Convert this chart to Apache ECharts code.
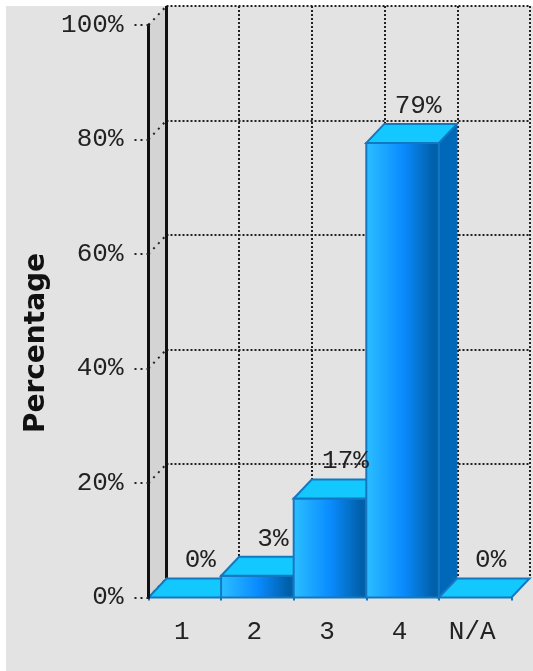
<!DOCTYPE html>
<html><head><meta charset="utf-8">
<script src="https://cdn.jsdelivr.net/npm/echarts@6/dist/echarts.min.js"></script>
<style>html,body{margin:0;padding:0;background:#fff}#c{width:533px;height:671px}</style>
</head><body><div id="c"></div>
<script>
const categories = ['1','2','3','4','N/A'];
const barHeights = [0,3.8,17.3,79.4,0];
const valueLabels = ['0%','3%','17%','79%','0%'];
const axisTicks = [0,20,40,60,80,100];
const DX = 18, DY = 19;
const mono = '"Liberation Mono","DejaVu Sans Mono",monospace';
const chart = echarts.init(document.getElementById('c'), null, {renderer:'canvas'});
function renderBar(params, api){
  const i = api.value(0), v = api.value(1);
  const p0 = api.coord([i,0]), p1 = api.coord([i,v]);
  const w = api.size([1,0])[0];
  const l = p0[0]-w/2, r = p0[0]+w/2, b = p0[1], t = p1[1];
  const stroke = '#1478c0';
  const kids = [];
  if (b-t > 0.5){
    kids.push({type:'polygon',shape:{points:[[r,t],[r+DX,t-DY],[r+DX,b-DY],[r,b]]},style:{fill:'#0068b8',stroke:'#0068b8',lineWidth:1}});
    kids.push({type:'rect',shape:{x:l,y:t,width:w,height:b-t},style:{
      fill:new echarts.graphic.LinearGradient(0,0,1,0,[
        {offset:0,color:'#2cc0ff'},{offset:0.5,color:'#0a8cff'},{offset:0.92,color:'#005fa8'},{offset:1,color:'#0062ae'}]),
      stroke:stroke,lineWidth:2}});
  }
  kids.push({type:'polygon',shape:{points:[[l,t],[l+DX,t-DY],[r+DX,t-DY],[r,t]]},style:{fill:'#12c8ff',stroke:stroke,lineWidth:2}});
  kids.push({type:'text',style:{text:valueLabels[i],x:p0[0]+15.5,y:t-DY-18,align:'center',verticalAlign:'middle',font:'26px '+mono,fill:'#222'},z2:10});
  return {type:'group',children:kids};
}
function renderWall(params, api){
  const w = api.size([1,0])[0];
  const a = api.coord([0,0]), b = api.coord([0,100]);
  const x = a[0]-w/2;
  return {type:'group',children:[
    {type:'polygon',shape:{points:[[x,a[1]],[x+DX,a[1]-DY],[x+DX,b[1]-DY],[x,b[1]]]},style:{fill:'#d4d4d4'}},
    {type:'line',shape:{x1:x+DX,y1:a[1]-DY,x2:x+DX,y2:b[1]-DY},style:{stroke:'#111',lineWidth:3}}
  ]};
}
function renderTickLink(params, api){
  const w = api.size([1,0])[0];
  const p = api.coord([0,api.value(1)]);
  const x = p[0]-w/2;
  return {type:'line',shape:{x1:x,y1:p[1],x2:x+DX,y2:p[1]-DY},style:{stroke:'#222',lineWidth:2,lineDash:[2,5]}};
}
chart.setOption({
  animation:false,
  backgroundColor:'#fff',
  graphic:[
    {type:'rect',z:-10,shape:{x:6,y:6,width:527,height:665},style:{fill:'#e3e3e3'}},
    {type:'text',z:10,x:37,y:343,rotation:Math.PI/2,style:{text:'Percentage',align:'center',verticalAlign:'middle',font:'bold 28px "DejaVu Sans",sans-serif',fill:'#111'}}
  ],
  grid:[
    {left:148.5,top:25,width:363,height:572.5},
    {left:166.5,top:6,width:363.5,height:572.5}
  ],
  xAxis:[
    {type:'category',gridIndex:0,data:categories,boundaryGap:true,
      axisLine:{show:false},axisTick:{show:true,length:3,lineStyle:{color:'#1478c0',width:2}},
      axisLabel:{color:'#222',fontFamily:mono,fontSize:26,margin:22,padding:[0,6,0,0]}},
    {type:'category',gridIndex:1,data:categories,boundaryGap:true,
      axisLine:{show:false},axisTick:{show:false},axisLabel:{show:false},
      splitLine:{show:true,interval:0,lineStyle:{color:'#222',width:2,type:[2,2]}}}
  ],
  yAxis:[
    {type:'value',gridIndex:0,min:0,max:100,interval:20,z:5,
      axisLine:{show:true,lineStyle:{color:'#111',width:3}},
      axisTick:{show:true,length:16,lineStyle:{color:'#222',width:2,type:[2,4]}},
      axisLabel:{color:'#222',fontFamily:mono,fontSize:26,margin:25,formatter:'{value}%'},
      splitLine:{show:false}},
    {type:'value',gridIndex:1,min:0,max:100,interval:20,
      axisLine:{show:false},axisTick:{show:false},axisLabel:{show:false},
      splitLine:{show:true,lineStyle:{color:'#222',width:2,type:[2,2]}}}
  ],
  series:[
    {type:'custom',xAxisIndex:0,yAxisIndex:0,z:1,silent:true,clip:false,data:[[0,0]],renderItem:renderWall},
    {type:'custom',xAxisIndex:0,yAxisIndex:0,z:2,silent:true,clip:false,data:axisTicks.map(t=>[0,t]),renderItem:renderTickLink},
    {type:'custom',xAxisIndex:0,yAxisIndex:0,z:3,silent:true,clip:false,encode:{x:0,y:1},
      data:barHeights.map((v,i)=>[i,v]),renderItem:renderBar}
  ]
});
</script></body></html>
